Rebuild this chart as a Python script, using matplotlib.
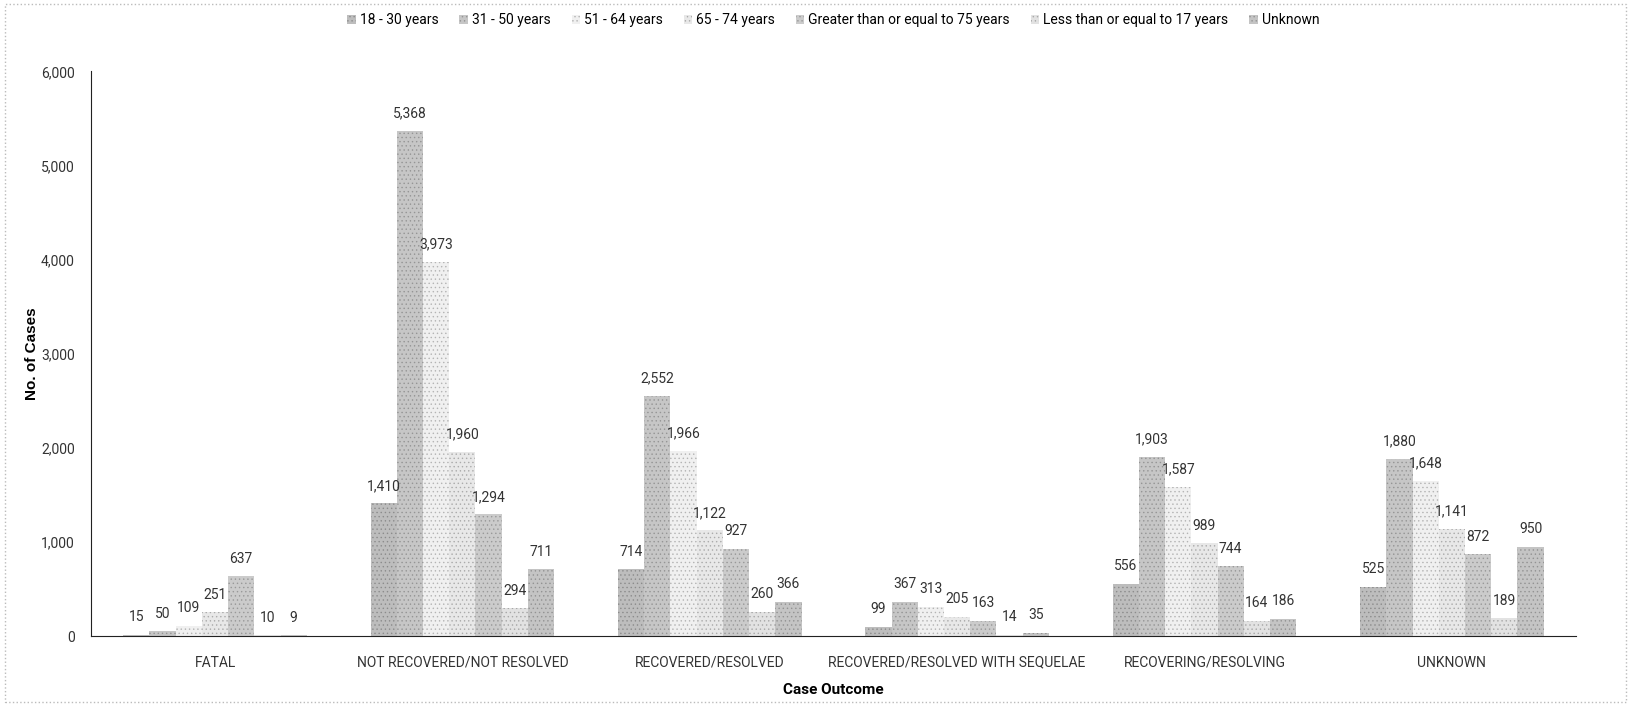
import numpy as np
import matplotlib.pyplot as plt
from matplotlib.patches import Rectangle

outcomes = ["FATAL", "NOT RECOVERED/NOT RESOLVED", "RECOVERED/RESOLVED",
            "RECOVERED/RESOLVED WITH SEQUELAE", "RECOVERING/RESOLVING", "UNKNOWN"]
age_groups = ["18 - 30 years", "31 - 50 years", "51 - 64 years", "65 - 74 years",
              "Greater than or equal to 75 years", "Less than or equal to 17 years", "Unknown"]

age_18_30 = [15, 1410, 714, 99, 556, 525]
age_31_50 = [50, 5368, 2552, 367, 1903, 1880]
age_51_64 = [109, 3973, 1966, 313, 1587, 1648]
age_65_74 = [251, 1960, 1122, 205, 989, 1141]
age_75_up = [637, 1294, 927, 163, 744, 872]
age_17_down = [10, 294, 260, 14, 164, 189]
age_unknown = [9, 711, 366, 35, 186, 950]

series = [age_18_30, age_31_50, age_51_64, age_65_74, age_75_up, age_17_down, age_unknown]
colors = ["#bdbdbd", "#c6c6c6", "#f0f0f0", "#e8e8e8", "#cbcbcb", "#e2e2e2", "#c4c4c4"]
hatch_cols = ["#8c8c8c", "#959595", "#b4b4b4", "#ababab", "#999999", "#a8a8a8", "#939393"]

plt.rcParams["font.family"] = ["Roboto", "DejaVu Sans"]
plt.rcParams["hatch.linewidth"] = 0.5

fig = plt.figure(figsize=(16.31, 7.06), dpi=100)
ax = fig.add_axes([0.056, 0.099, 0.910, 0.800])

x = np.arange(len(outcomes))
width = 0.106
for i, (vals, c) in enumerate(zip(series, colors)):
    pos = x + (i - 3) * width
    bars = ax.bar(pos, vals, width, color=c, hatch="....", edgecolor=hatch_cols[i],
                  linewidth=0, label=age_groups[i])
    for b, v in zip(bars, vals):
        ax.text(b.get_x() + b.get_width() / 2, v + 110, f"{v:,}",
                ha="center", va="bottom", fontsize=10, color="#333333")

ax.set_xlim(-0.5, len(outcomes) - 0.5)
ax.set_ylim(0, 6000)
ax.set_yticks(np.arange(0, 6001, 1000))
ax.yaxis.set_major_formatter(plt.FuncFormatter(lambda v, p: f"{int(v):,}"))
ax.set_xticks(x)
ax.set_xticklabels(outcomes)
ax.tick_params(axis="both", length=0, labelsize=10, colors="#333333", pad=14)
ax.tick_params(axis="y", pad=12)

for s in ["top", "right"]:
    ax.spines[s].set_visible(False)
ax.spines["left"].set_color("#222222")
ax.spines["bottom"].set_color("#222222")

ax.set_xlabel("Case Outcome", fontsize=11, fontweight="bold", labelpad=10)
ax.set_ylabel("No. of Cases", fontsize=11, fontweight="bold",
              family="Liberation Sans")
ax.yaxis.set_label_coords(-0.035, 0.5)

ax.legend(loc="upper center", bbox_to_anchor=(0.5, 1.125), ncol=7, frameon=False,
          fontsize=10, handlelength=0.6, handleheight=0.6, handletextpad=0.3,
          columnspacing=1.5)

# dotted frame around the figure
fig.patches.append(Rectangle((0.003, 0.005), 0.994, 0.99, transform=fig.transFigure,
                             fill=False, edgecolor="#bbbbbb", linestyle=":",
                             linewidth=1.0))

fig.savefig("out.png", dpi=100)
